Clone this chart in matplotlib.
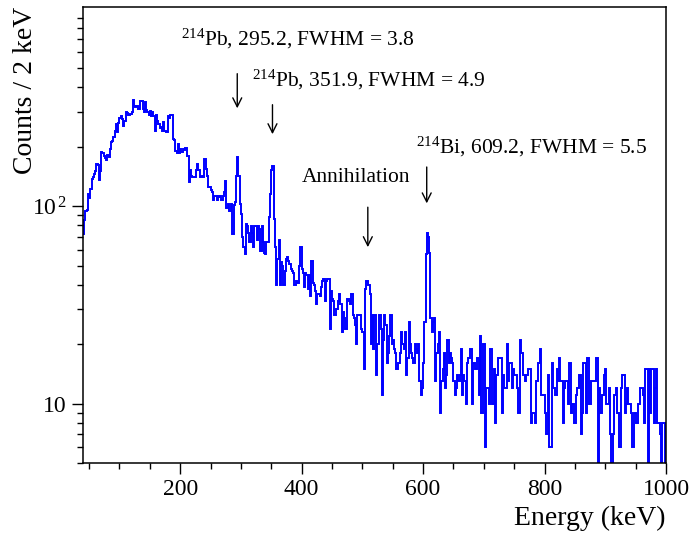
import matplotlib
matplotlib.use("Agg")
import matplotlib.pyplot as plt
import numpy as np
from matplotlib.ticker import MultipleLocator, FixedLocator, FixedFormatter, LogLocator, NullFormatter

plt.rcParams["font.family"] = ["Liberation Serif", "DejaVu Serif"]
plt.rcParams["mathtext.fontset"] = "custom"
plt.rcParams["mathtext.rm"] = "Liberation Serif"
plt.rcParams["mathtext.it"] = "Liberation Serif:italic"

# histogram: 2 keV bins from 40 to 1000 keV
e_min, e_max, bin_width = 40, 1000, 2

counts_040_198 = [
    72, 85, 95, 96, 115, 110, 122, 137, 140, 145,
    150, 164, 162, 135, 150, 188, 185, 180, 176, 172,
    182, 178, 195, 211, 213, 225, 240, 262, 238, 265,
    280, 287, 275, 255, 270, 300, 295, 288, 290, 292,
    300, 345, 320, 318, 322, 310, 312, 340, 342, 312,
    300, 335, 308, 300, 290, 305, 285, 300, 285, 240,
    290, 270, 262, 248, 252, 240, 268, 240, 236, 236,
    285, 280, 290, 288, 220, 215, 190, 185, 206, 185,
]
counts_200_398 = [
    195, 188, 195, 192, 198, 198, 180, 132, 152, 142,
    140, 140, 140, 152, 163, 152, 140, 140, 142, 140,
    173, 155, 142, 125, 125, 120, 118, 108, 113, 112,
    108, 113, 111, 112, 108, 112, 118, 134, 98, 103,
    94, 95, 103, 72, 101, 105, 142, 177, 142, 103,
    91, 70, 62, 57, 81, 79, 73, 66, 79, 73,
    62, 79, 79, 67, 79, 77, 59, 79, 66, 58,
    57, 66, 66, 88, 115, 152, 160, 86, 62, 40,
    54, 67, 40, 52, 50, 40, 47, 54, 55, 53,
    51, 48, 47, 46, 40, 42, 41, 41, 50, 62,
]
counts_400_598 = [
    48, 46, 39, 46, 45, 38, 45, 35, 53, 41,
    40, 37, 32, 36, 36, 35, 39, 42, 43, 33,
    42, 43, 43, 24, 37, 34, 33, 28, 30, 30,
    33, 36, 32, 23, 29, 27, 24, 34, 34, 33,
    32, 36, 28, 27, 25, 20, 28, 28, 28, 24,
    23, 15, 38, 42, 42, 40, 36, 20, 28, 19,
    28, 14, 20, 20, 28, 24, 11, 21, 28, 25,
    16, 18, 22, 28, 20, 21, 19, 18, 15, 16,
    16, 18, 23, 20, 19, 23, 14, 17, 26, 20,
    18, 17, 16, 20, 19, 18, 20, 13, 11, 12,
]
counts_600_798 = [
    16, 26, 57, 73, 70, 58, 27, 23, 26, 27,
    13, 18, 20, 23, 9, 13, 15, 18, 12, 14,
    21, 16, 18, 17, 16, 13, 11, 12, 14, 13,
    14, 19, 11, 14, 13, 10, 16, 17, 17, 19,
    10, 16, 16, 15, 17, 17, 11, 22, 9, 20,
    20, 6, 12, 12, 10, 19, 19, 10, 15, 8,
    14, 14, 17, 17, 17, 9, 14, 12, 12, 20,
    13, 16, 16, 12, 15, 14, 14, 12, 9, 9,
    21, 18, 14, 14, 13, 14, 15, 15, 15, 8,
    9, 9, 8, 13, 13, 16, 19, 11, 11, 11,
]
counts_800_998 = [
    9, 7, 7, 14, 6, 6, 16, 12, 12, 11,
    15, 13, 17, 13, 13, 8, 12, 13, 13, 10,
    16, 16, 9, 10, 8, 8, 11, 12, 14, 14,
    7, 9, 16, 16, 9, 17, 17, 10, 13, 13,
    13, 13, 17, 17, 0, 12, 9, 11, 11, 14,
    15, 10, 10, 12, 7, 0, 7, 11, 11, 12,
    9, 6, 6, 12, 14, 14, 9, 10, 12, 10,
    10, 9, 6, 6, 9, 8, 8, 10, 10, 12,
    12, 11, 8, 15, 15, 0, 15, 9, 15, 15,
    8, 12, 15, 8, 8, 7, 0, 8, 8, 0,
]

counts = np.array(counts_040_198 + counts_200_398 + counts_400_598
                  + counts_600_798 + counts_800_998, dtype=float)
edges = np.arange(e_min, e_max + bin_width, bin_width)

# peak labels: (text, text x, text y, arrow x, arrow top, arrow bottom)
peak_labels = [
    (r"$^{214}$Pb, 295.2, FWHM = 3.8", 201, 652, 294, 484, 303),
    (r"$^{214}$Pb, 351.9, FWHM = 4.9", 318, 402, 352, 337, 224),
    (r"$^{214}$Bi, 609.2, FWHM = 5.5", 589, 184, 606, 163, 100),
    ("Annihilation", 400, 133, 509, 102, 60),
]

fig = plt.figure(figsize=(6.9, 5.33), dpi=100)
ax = fig.add_axes([0.1203, 0.1313, 0.8449, 0.8556])

ax.stairs(counts, edges, color="blue", lw=1.4, baseline=None)

ax.set_yscale("log", nonpositive="clip")
ax.set_xlim(e_min, e_max)
ax.set_ylim(5, 1020)

ax.xaxis.set_major_locator(MultipleLocator(200))
ax.xaxis.set_minor_locator(MultipleLocator(50))
ax.yaxis.set_major_locator(FixedLocator([10, 100]))
ax.yaxis.set_major_formatter(FixedFormatter(["10", r"10$^{\,2}$"]))
ax.yaxis.set_minor_locator(LogLocator(base=10, subs=np.arange(2, 10)))
ax.yaxis.set_minor_formatter(NullFormatter())

ax.tick_params(which="both", direction="out", top=False, right=False, width=1, labelsize=17)
ax.tick_params(which="major", length=8)
ax.tick_params(which="minor", length=4.5)
for s in ax.spines.values():
    s.set_linewidth(1.1)

ax.set_xlabel("Energy (keV)", fontsize=20, loc="right")
ax.set_ylabel("Counts / 2 keV", fontsize=20, loc="top")
ax.yaxis.set_label_coords(-0.078, 1.0)

for txt, tx, ty, axx, ytop, ybot in peak_labels:
    ax.text(tx, ty, txt, fontsize=15.5, va="baseline", ha="left")
    ax.annotate("", xy=(axx, ybot), xytext=(axx, ytop),
                arrowprops=dict(arrowstyle="->", color="black", lw=1, mutation_scale=16))

fig.savefig("out.png", dpi=100)
